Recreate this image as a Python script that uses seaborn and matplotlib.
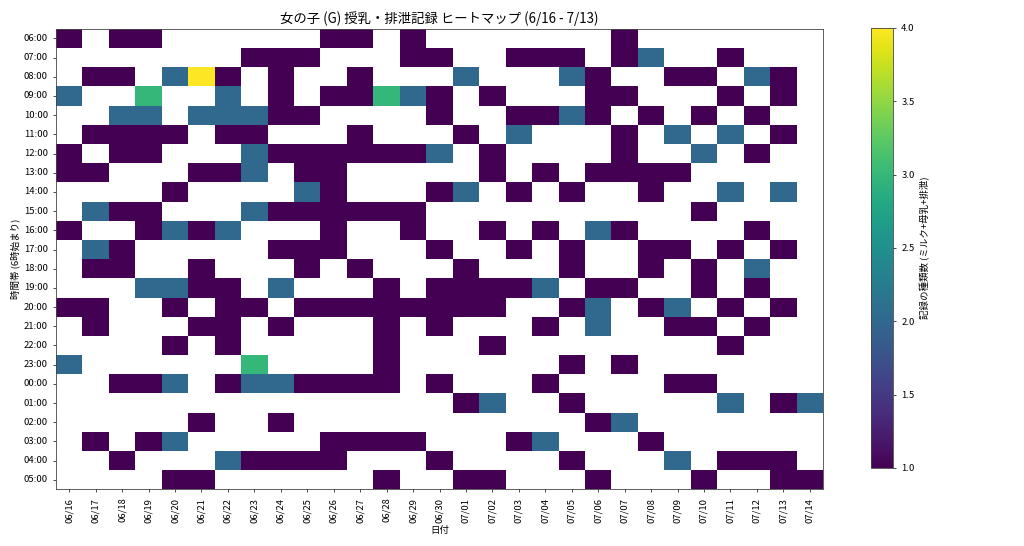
import numpy as np
import pandas as pd
import matplotlib.pyplot as plt
import seaborn as sns

# 日付 (列) と 時間帯 (行, 6時始まり)
dates = ['06/16', '06/17', '06/18', '06/19', '06/20', '06/21', '06/22', '06/23',
         '06/24', '06/25', '06/26', '06/27', '06/28', '06/29', '06/30',
         '07/01', '07/02', '07/03', '07/04', '07/05', '07/06', '07/07',
         '07/08', '07/09', '07/10', '07/11', '07/12', '07/13', '07/14']
hours = ['06:00', '07:00', '08:00', '09:00', '10:00', '11:00', '12:00', '13:00',
         '14:00', '15:00', '16:00', '17:00', '18:00', '19:00', '20:00', '21:00',
         '22:00', '23:00', '00:00', '01:00', '02:00', '03:00', '04:00', '05:00']

# 記録の種類数 (0 = 記録なし)
counts = [
    [1,0,1,1,0,0,0,0,0,0,1,1,0,1,0,0,0,0,0,0,0,1,0,0,0,0,0,0,0],  # 06:00
    [0,0,0,0,0,0,0,1,1,1,0,0,0,1,1,0,0,1,1,1,0,1,2,0,0,1,0,0,0],  # 07:00
    [0,1,1,0,2,4,1,0,1,0,0,1,0,0,0,2,0,0,0,2,1,0,0,1,1,0,2,1,0],  # 08:00
    [2,0,0,3,0,0,2,0,1,0,1,1,3,2,1,0,1,0,0,0,1,1,0,0,0,1,0,1,0],  # 09:00
    [0,0,2,2,0,2,2,2,1,1,0,0,0,0,1,0,0,1,1,2,1,0,1,0,1,0,1,0,0],  # 10:00
    [0,1,1,1,1,0,1,1,0,0,0,1,0,0,0,1,0,2,0,0,0,1,0,2,0,2,0,1,0],  # 11:00
    [1,0,1,1,0,0,0,2,1,1,1,1,1,1,2,0,1,0,0,0,0,1,0,0,2,0,1,0,0],  # 12:00
    [1,1,0,0,0,1,1,2,0,1,1,0,0,0,0,0,1,0,1,0,1,1,1,1,0,0,0,0,0],  # 13:00
    [0,0,0,0,1,0,0,0,0,2,1,0,0,0,1,2,0,1,0,1,0,0,1,0,0,2,0,2,0],  # 14:00
    [0,2,1,1,0,0,0,2,1,1,1,1,1,1,0,0,0,0,0,0,0,0,0,0,1,0,0,0,0],  # 15:00
    [1,0,0,1,2,1,2,0,0,0,1,0,0,1,0,0,1,0,1,0,2,1,0,0,0,0,1,0,0],  # 16:00
    [0,2,1,0,0,0,0,0,1,1,1,0,0,0,1,0,0,1,0,1,0,0,1,1,0,1,0,1,0],  # 17:00
    [0,1,1,0,0,1,0,0,0,1,0,1,0,0,0,1,0,0,0,1,0,0,1,0,1,0,2,0,0],  # 18:00
    [0,0,0,2,2,1,1,0,2,0,0,0,1,0,1,1,1,1,2,0,1,1,0,0,1,0,1,0,0],  # 19:00
    [1,1,0,0,1,0,1,1,0,1,1,1,1,1,1,1,1,0,0,1,2,0,1,2,0,1,0,1,0],  # 20:00
    [0,1,0,0,0,1,1,0,1,0,0,0,1,0,1,0,0,0,1,0,2,0,0,1,1,0,1,0,0],  # 21:00
    [0,0,0,0,1,0,1,0,0,0,0,0,1,0,0,0,1,0,0,0,0,0,0,0,0,1,0,0,0],  # 22:00
    [2,0,0,0,0,0,0,3,0,0,0,0,1,0,0,0,0,0,0,1,0,1,0,0,0,0,0,0,0],  # 23:00
    [0,0,1,1,2,0,1,2,2,1,1,1,1,0,1,0,0,0,1,0,0,0,0,1,1,0,0,0,0],  # 00:00
    [0,0,0,0,0,0,0,0,0,0,0,0,0,0,0,1,2,0,0,1,0,0,0,0,0,2,0,1,2],  # 01:00
    [0,0,0,0,0,1,0,0,1,0,0,0,0,0,0,0,0,0,0,0,1,2,0,0,0,0,0,0,0],  # 02:00
    [0,1,0,1,2,0,0,0,0,0,1,1,1,1,0,0,0,1,2,0,0,0,1,0,0,0,0,0,0],  # 03:00
    [0,0,1,0,0,0,2,1,1,1,1,0,0,0,1,0,0,0,0,1,0,0,0,2,0,1,1,1,0],  # 04:00
    [0,0,0,0,1,1,0,0,0,0,0,0,1,0,0,1,1,0,0,0,1,0,0,0,1,0,0,1,1],  # 05:00
]

plt.rcParams['font.family'] = ['Noto Sans CJK JP', 'DejaVu Sans']

data = np.array(counts, dtype=float)
data[data == 0] = np.nan
df = pd.DataFrame(data, index=hours, columns=dates)

fig = plt.figure(figsize=(10.24, 5.46), dpi=100)
ax = fig.add_axes([0.0547, 0.1035, 0.749, 0.8439])
cax = fig.add_axes([0.8506, 0.1429, 0.0215, 0.8059])

sns.heatmap(df, cmap='viridis', vmin=1, vmax=4, ax=ax, cbar_ax=cax,
            xticklabels=True, yticklabels=True,
            cbar_kws={'label': '記録の種類数 (ミルク+母乳+排泄)'})

# 枠線を戻す
for s in ax.spines.values():
    s.set_visible(True)
    s.set_linewidth(0.6)
    s.set_color('#444444')
cb = ax.collections[0].colorbar
cb.outline.set_linewidth(0.6)
cb.outline.set_edgecolor('#444444')
cb.ax.tick_params(labelsize=6.8, length=2.4, width=0.5)
cb.ax.yaxis.label.set_size(6.8)

ax.tick_params(labelsize=6.8, length=2.4, width=0.5)
plt.setp(ax.get_xticklabels(), rotation=90)
plt.setp(ax.get_yticklabels(), rotation=0)

ax.set_title('女の子 (G) 授乳・排泄記録 ヒートマップ (6/16 - 7/13)', fontsize=9.6, pad=4)
ax.set_xlabel('日付', fontsize=6.8, labelpad=2.5)
ax.set_ylabel('時間帯 (6時始まり)', fontsize=6.8, labelpad=2.5)

fig.savefig('out.png', dpi=100)
